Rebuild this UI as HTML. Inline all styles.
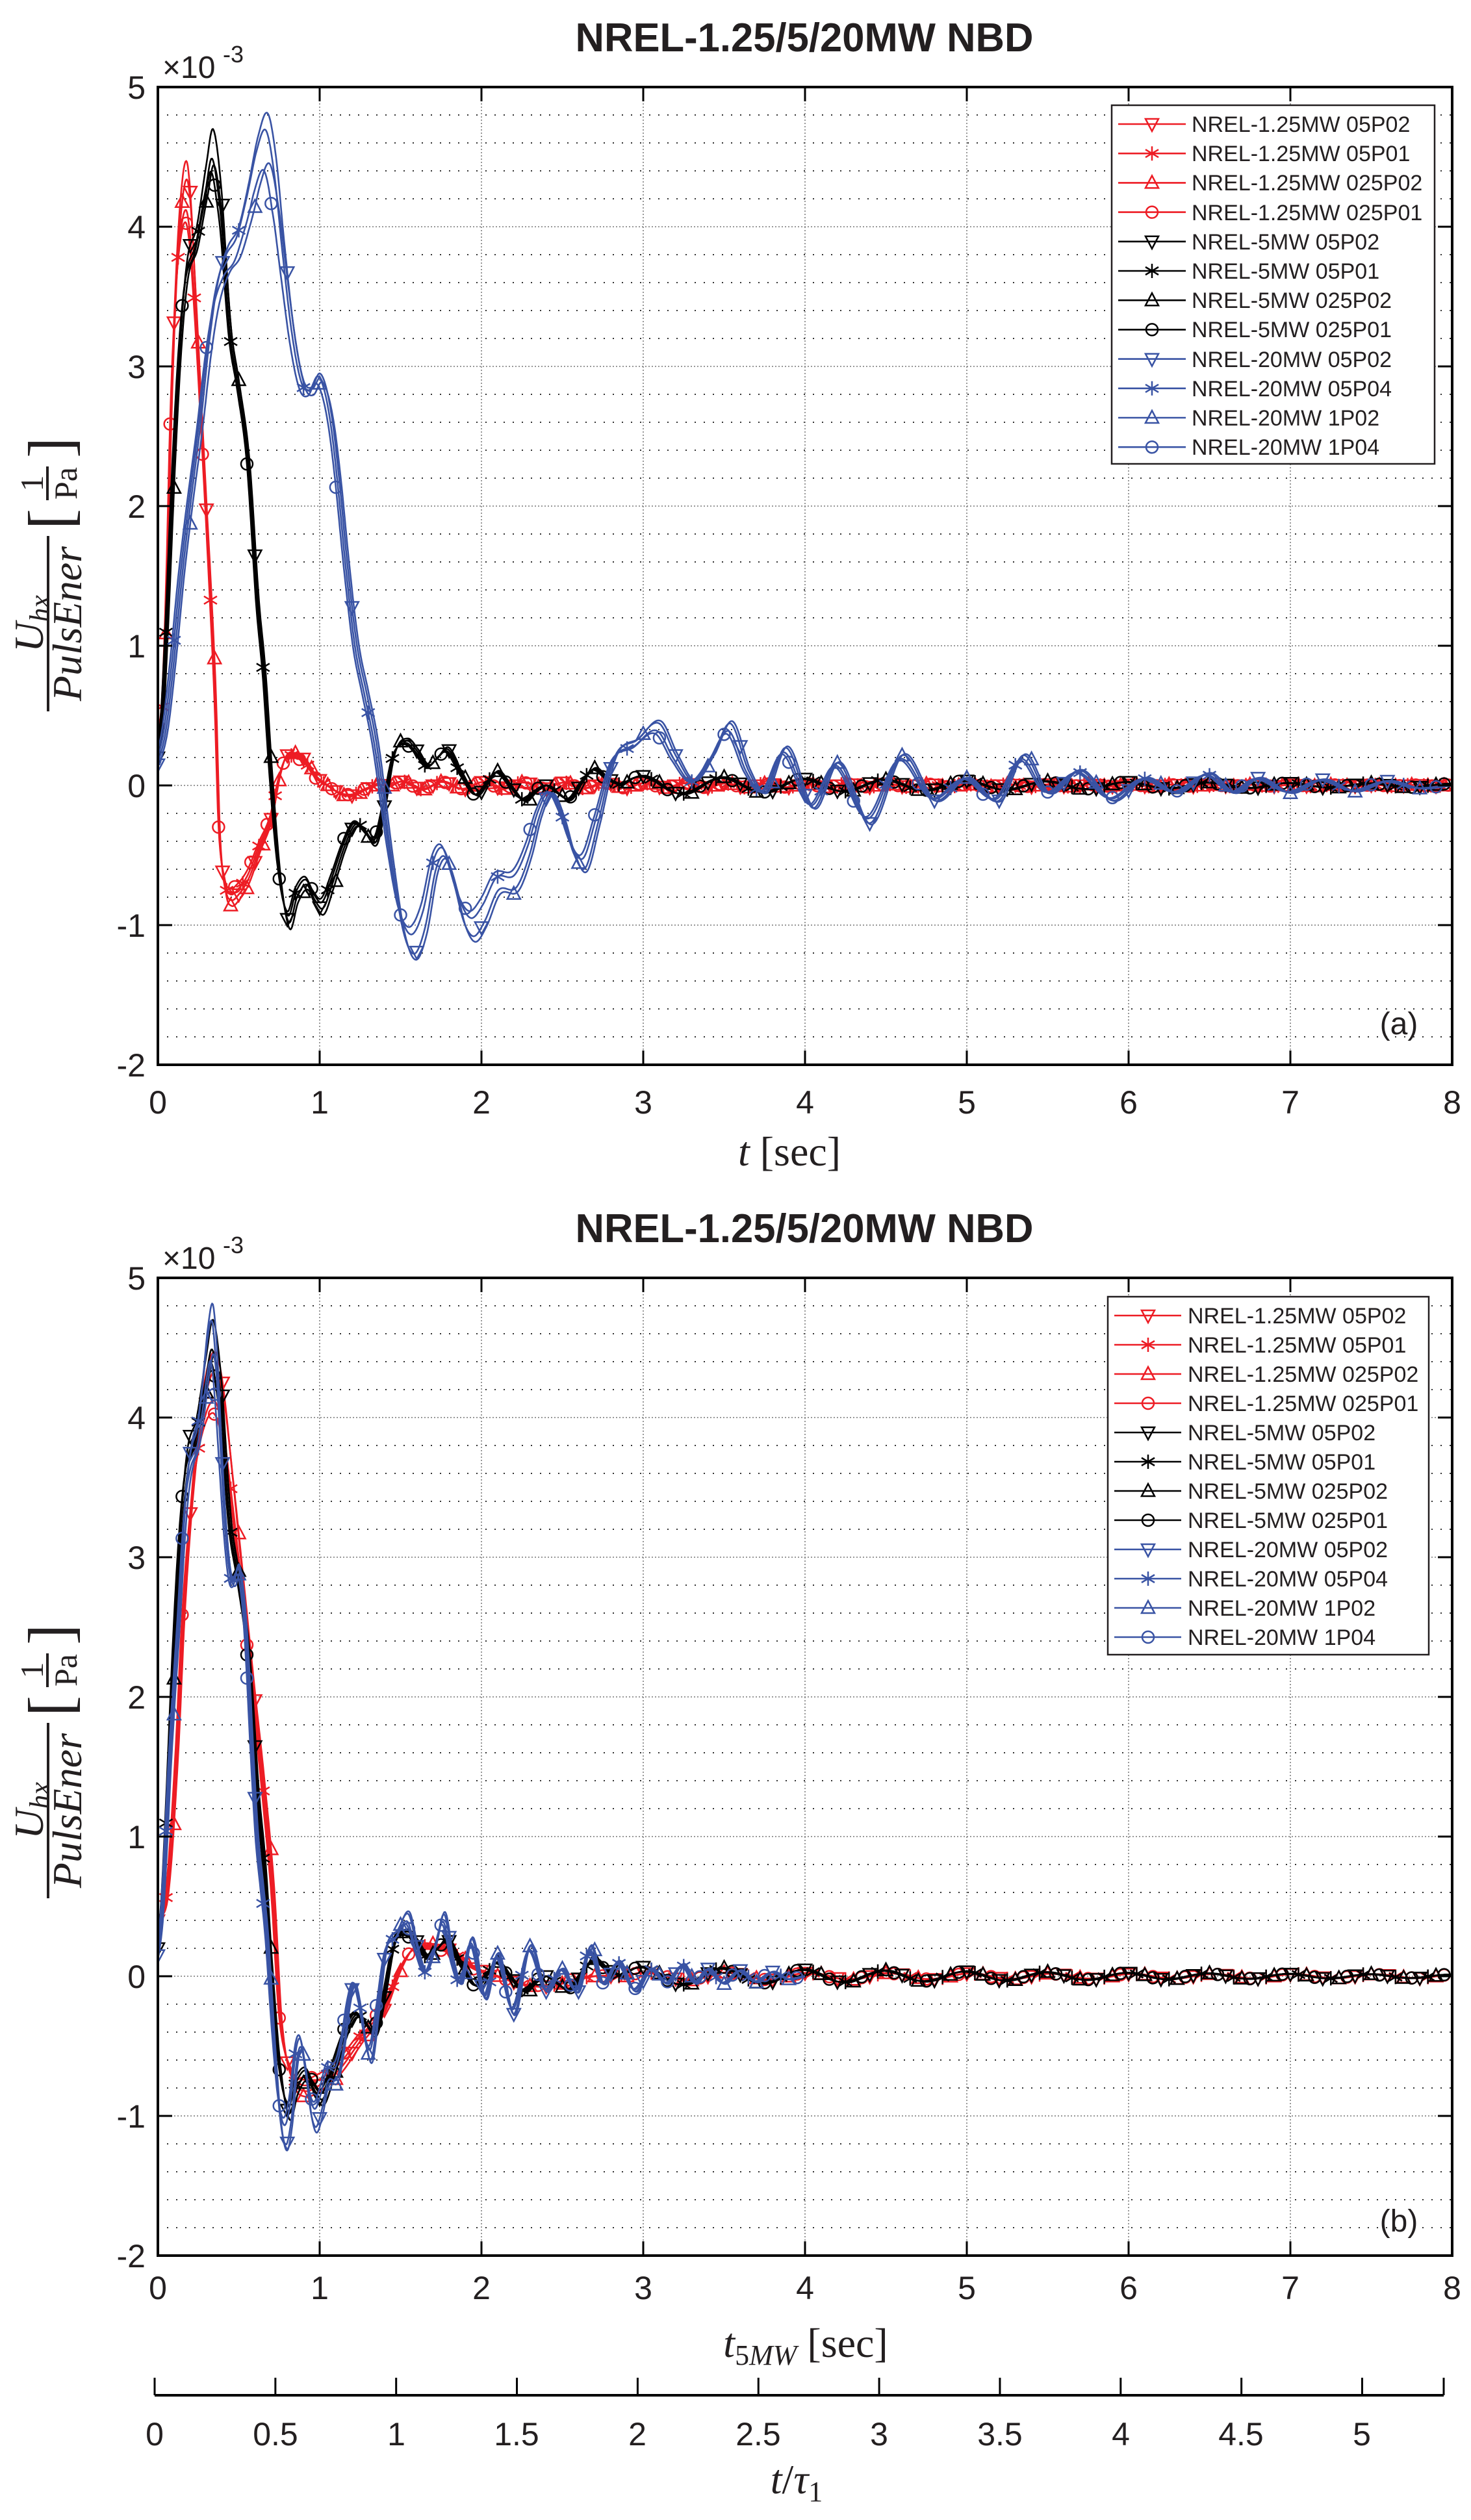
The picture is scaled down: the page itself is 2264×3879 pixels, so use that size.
<!DOCTYPE html>
<html><head><meta charset="utf-8"><style>
html,body{margin:0;padding:0;background:#fff}
svg{display:block}
text{font-family:"Liberation Sans",sans-serif;fill:#231f20}
.tk{font-size:50px}
.lg{font-size:34px}
.m{font-family:"Liberation Serif",serif}
</style></head><body>
<svg id="s" xmlns="http://www.w3.org/2000/svg" width="2264" height="3879" viewBox="0 0 2264 3879">
<defs>
<clipPath id="ca"><rect x="243" y="134" width="1992" height="1505"/></clipPath>
<clipPath id="cb"><rect x="243" y="1967" width="1992" height="1500"/></clipPath>
</defs>
<rect width="2264" height="3879" fill="#fff"/>
<g id="grid"></g>
<g id="curves"></g>
<g id="axes"></g>

<text x="1238" y="79" font-size="62" font-weight="bold" text-anchor="middle" textLength="705" lengthAdjust="spacingAndGlyphs">NREL-1.25/5/20MW NBD</text>
<text x="1238" y="1912" font-size="62" font-weight="bold" text-anchor="middle" textLength="705" lengthAdjust="spacingAndGlyphs">NREL-1.25/5/20MW NBD</text>

<text x="250" y="120" font-size="48">×10</text><text x="343" y="96" font-size="36">-3</text>
<text x="250" y="1953" font-size="48">×10</text><text x="343" y="1929" font-size="36">-3</text>

<g class="tk" text-anchor="end">
<text x="224" y="152">5</text><text x="224" y="367">4</text><text x="224" y="582">3</text><text x="224" y="797">2</text><text x="224" y="1012">1</text><text x="224" y="1227">0</text><text x="224" y="1442">-1</text><text x="224" y="1657">-2</text>
<text x="224" y="1985">5</text><text x="224" y="2200">4</text><text x="224" y="2415">3</text><text x="224" y="2630">2</text><text x="224" y="2845">1</text><text x="224" y="3060">0</text><text x="224" y="3275">-1</text><text x="224" y="3490">-2</text>
</g>
<g class="tk" text-anchor="middle">
<text x="243" y="1714">0</text><text x="492" y="1714">1</text><text x="741" y="1714">2</text><text x="990" y="1714">3</text><text x="1239" y="1714">4</text><text x="1488" y="1714">5</text><text x="1737" y="1714">6</text><text x="1986" y="1714">7</text><text x="2235" y="1714">8</text>
<text x="243" y="3539">0</text><text x="492" y="3539">1</text><text x="741" y="3539">2</text><text x="990" y="3539">3</text><text x="1239" y="3539">4</text><text x="1488" y="3539">5</text><text x="1737" y="3539">6</text><text x="1986" y="3539">7</text><text x="2235" y="3539">8</text>
<text x="238" y="3764">0</text><text x="424" y="3764">0.5</text><text x="610" y="3764">1</text><text x="795" y="3764">1.5</text><text x="981" y="3764">2</text><text x="1167" y="3764">2.5</text><text x="1353" y="3764">3</text><text x="1539" y="3764">3.5</text><text x="1725" y="3764">4</text><text x="1910" y="3764">4.5</text><text x="2096" y="3764">5</text>
</g>

<text class="m" x="1215" y="1794" font-size="64" text-anchor="middle"><tspan font-style="italic">t</tspan> [sec]</text>
<text class="m" x="1240" y="3628" font-size="64" text-anchor="middle"><tspan font-style="italic">t</tspan><tspan font-size="44" dy="12">5</tspan><tspan font-size="44" font-style="italic">MW</tspan><tspan dy="-12"> [sec]</tspan></text>
<text class="m" x="1226" y="3838" font-size="64" text-anchor="middle"><tspan font-style="italic">t</tspan>/<tspan font-style="italic">τ</tspan><tspan font-size="44" dy="12">1</tspan></text>

<g transform="translate(0,890) rotate(-90)">
<text class="m" x="-70" y="66" font-size="64" text-anchor="middle" font-style="italic">U<tspan font-size="44" dy="10">hx</tspan></text>
<rect x="-205" y="72" width="270" height="4" fill="#231f20"/>
<text class="m" x="-70" y="125" font-size="64" text-anchor="middle" font-style="italic">PulsEner</text>
<text class="m" x="91" y="110" font-size="96" text-anchor="middle">[</text>
<text class="m" x="146" y="66" font-size="50" text-anchor="middle">1</text>
<rect x="120" y="71" width="52" height="4" fill="#231f20"/>
<text class="m" x="146" y="118" font-size="50" text-anchor="middle">Pa</text>
<text class="m" x="201" y="110" font-size="96" text-anchor="middle">]</text>
</g>
<g transform="translate(0,2717) rotate(-90)">
<text class="m" x="-70" y="66" font-size="64" text-anchor="middle" font-style="italic">U<tspan font-size="44" dy="10">hx</tspan></text>
<rect x="-205" y="72" width="270" height="4" fill="#231f20"/>
<text class="m" x="-70" y="125" font-size="64" text-anchor="middle" font-style="italic">PulsEner</text>
<text class="m" x="91" y="110" font-size="96" text-anchor="middle">[</text>
<text class="m" x="146" y="66" font-size="50" text-anchor="middle">1</text>
<rect x="120" y="71" width="52" height="4" fill="#231f20"/>
<text class="m" x="146" y="118" font-size="50" text-anchor="middle">Pa</text>
<text class="m" x="201" y="110" font-size="96" text-anchor="middle">]</text>
</g>

<text x="2153" y="1592" font-size="48" text-anchor="middle">(a)</text>
<text x="2153" y="3435" font-size="48" text-anchor="middle">(b)</text>

<rect x="1711" y="162" width="497" height="552" fill="#fff" stroke="#231f20" stroke-width="2.5"/>
<rect x="1705" y="1996" width="494" height="551" fill="#fff" stroke="#231f20" stroke-width="2.5"/>
<g id="leglines"></g>
<g class="lg">
<text x="1834" y="203">NREL-1.25MW 05P02</text>
<text x="1834" y="248">NREL-1.25MW 05P01</text>
<text x="1834" y="293">NREL-1.25MW 025P02</text>
<text x="1834" y="339">NREL-1.25MW 025P01</text>
<text x="1834" y="384">NREL-5MW 05P02</text>
<text x="1834" y="429">NREL-5MW 05P01</text>
<text x="1834" y="474">NREL-5MW 025P02</text>
<text x="1834" y="519">NREL-5MW 025P01</text>
<text x="1834" y="565">NREL-20MW 05P02</text>
<text x="1834" y="610">NREL-20MW 05P04</text>
<text x="1834" y="655">NREL-20MW 1P02</text>
<text x="1834" y="700">NREL-20MW 1P04</text>
<text x="1828" y="2037">NREL-1.25MW 05P02</text>
<text x="1828" y="2082">NREL-1.25MW 05P01</text>
<text x="1828" y="2127">NREL-1.25MW 025P02</text>
<text x="1828" y="2172">NREL-1.25MW 025P01</text>
<text x="1828" y="2217">NREL-5MW 05P02</text>
<text x="1828" y="2262">NREL-5MW 05P01</text>
<text x="1828" y="2307">NREL-5MW 025P02</text>
<text x="1828" y="2352">NREL-5MW 025P01</text>
<text x="1828" y="2397">NREL-20MW 05P02</text>
<text x="1828" y="2442">NREL-20MW 05P04</text>
<text x="1828" y="2487">NREL-20MW 1P02</text>
<text x="1828" y="2532">NREL-20MW 1P04</text>
</g>
</svg>
<script>
(function(){
var NS="http://www.w3.org/2000/svg";
function el(p,n,a){var e=document.createElementNS(NS,n);for(var k in a)e.setAttribute(k,a[k]);p.appendChild(e);return e;}
var X0=243,XS=249,YS=215,TOPS=[134,1967];
function px(t){return X0+t*XS}
function py(top,v){return top+(5-v)*YS}
var grid=document.getElementById('grid'),axes=document.getElementById('axes'),cur=document.getElementById('curves');
TOPS.forEach(function(top){
  var bot=top+7*YS;
  for(var k=-9;k<=24;k++){var v=k/5;if(k%5===0)continue;
    el(grid,'line',{x1:X0,x2:X0+8*XS,y1:py(top,v),y2:py(top,v),stroke:'#333','stroke-width':2,'stroke-dasharray':'2,12'});}
  for(var v=-1;v<=4;v++) el(grid,'line',{x1:X0,x2:X0+8*XS,y1:py(top,v),y2:py(top,v),stroke:'#777','stroke-width':1.5,'stroke-dasharray':'2,3'});
  for(var i=1;i<8;i++) el(grid,'line',{x1:px(i),x2:px(i),y1:top,y2:bot,stroke:'#777','stroke-width':1.5,'stroke-dasharray':'2,3'});
  el(axes,'rect',{x:X0,y:top,width:8*XS,height:7*YS,fill:'none',stroke:'#000','stroke-width':4});
  for(var i=1;i<8;i++){el(axes,'line',{x1:px(i),x2:px(i),y1:top,y2:top+22,stroke:'#000','stroke-width':3});el(axes,'line',{x1:px(i),x2:px(i),y1:bot,y2:bot-22,stroke:'#000','stroke-width':3});}
  for(var v=-1;v<=4;v++){el(axes,'line',{x1:X0,x2:X0+22,y1:py(top,v),y2:py(top,v),stroke:'#000','stroke-width':3});el(axes,'line',{x1:X0+8*XS,x2:X0+8*XS-22,y1:py(top,v),y2:py(top,v),stroke:'#000','stroke-width':3});}
});
el(axes,'line',{x1:238,x2:2222,y1:3687,y2:3687,stroke:'#000','stroke-width':4});
for(var i=0;i<=10;i++){var x=238+i*185.85;el(axes,'line',{x1:x,x2:x,y1:3687,y2:3660,stroke:'#000','stroke-width':3});}
el(axes,'line',{x1:2222,x2:2222,y1:3687,y2:3660,stroke:'#000','stroke-width':3});

function mk(pts){return function(t){
  var n=pts.length;if(t<=pts[0][0])return pts[0][1];if(t>=pts[n-1][0])return pts[n-1][1];
  var k=0;while(pts[k+1][0]<t)k++;
  function m(j){if(j<=0)return (pts[1][1]-pts[0][1])/(pts[1][0]-pts[0][0]);if(j>=n-1)return (pts[n-1][1]-pts[n-2][1])/(pts[n-1][0]-pts[n-2][0]);
    return 0.5*((pts[j+1][1]-pts[j][1])/(pts[j+1][0]-pts[j][0])+(pts[j][1]-pts[j-1][1])/(pts[j][0]-pts[j-1][0]));}
  var t0=pts[k][0],t1=pts[k+1][0],h=t1-t0,s=(t-t0)/h,s2=s*s,s3=s2*s;
  return (2*s3-3*s2+1)*pts[k][1]+(s3-2*s2+s)*h*m(k)+(-2*s3+3*s2)*pts[k+1][1]+(s3-s2)*h*m(k+1);
};}
var red=mk([[0,0.4],[0.03,0.6],[0.06,1.6],[0.08,2.6],[0.11,3.6],[0.14,4.2],[0.177,4.47],[0.2,4.25],[0.23,3.6],[0.26,2.9],[0.29,2.2],[0.33,1.3],[0.357,0.6],[0.38,-0.3],[0.42,-0.75],[0.45,-0.82],[0.5,-0.78],[0.56,-0.67],[0.63,-0.45],[0.7,-0.24],[0.75,0.05],[0.79,0.2],[0.85,0.22],[0.91,0.18],[0.98,0.06],[1.05,0],[1.13,-0.06],[1.21,-0.07],[1.28,-0.03],[1.35,0.0],[1.45,0.0]]);
var blk=mk([[0,0.2],[0.03,0.5],[0.06,1.2],[0.1,2.3],[0.14,3.2],[0.18,3.75],[0.24,4.0],[0.3,4.45],[0.34,4.7],[0.39,4.3],[0.45,3.3],[0.5,2.9],[0.56,2.35],[0.62,1.3],[0.66,0.8],[0.7,0.1],[0.75,-0.6],[0.81,-0.98],[0.86,-0.8],[0.92,-0.71],[0.97,-0.82],[1.02,-0.88],[1.08,-0.7],[1.15,-0.45],[1.22,-0.28],[1.28,-0.33],[1.35,-0.4],[1.4,-0.15],[1.46,0.22],[1.54,0.32],[1.6,0.25],[1.67,0.14],[1.73,0.2],[1.79,0.26],[1.88,0.08],[1.97,-0.07],[2.04,0.02],[2.1,0.1],[2.18,0.0],[2.27,-0.11],[2.34,-0.04],[2.41,0],[2.48,-0.06],[2.55,-0.1],[2.62,0.02],[2.7,0.12],[2.78,0.05],[2.87,0]]);
var blu=mk([[0,0.15],[0.05,0.4],[0.1,0.9],[0.15,1.5],[0.2,2.0],[0.265,2.6],[0.32,3.2],[0.37,3.6],[0.43,3.85],[0.5,4.0],[0.56,4.3],[0.62,4.65],[0.68,4.81],[0.73,4.5],[0.78,3.9],[0.84,3.27],[0.9,2.9],[0.95,2.85],[1.0,2.95],[1.04,2.85],[1.08,2.6],[1.12,2.2],[1.17,1.6],[1.23,1.0],[1.29,0.65],[1.35,0.3],[1.44,-0.47],[1.51,-0.95],[1.58,-1.12],[1.65,-0.95],[1.72,-0.55],[1.77,-0.47],[1.83,-0.65],[1.89,-0.9],[1.95,-1.0],[2.02,-0.9],[2.1,-0.7],[2.22,-0.67],[2.3,-0.45],[2.36,-0.2],[2.43,-0.05],[2.5,-0.2],[2.57,-0.45],[2.64,-0.55],[2.72,-0.25],[2.82,0.18],[2.96,0.3],[3.1,0.41],[3.2,0.2],[3.31,0.03],[3.43,0.2],[3.54,0.41],[3.65,0.1],[3.75,-0.05],[3.88,0.25],[4.05,-0.15],[4.2,0.15],[4.4,-0.25],[4.6,0.2],[4.8,-0.1],[5.0,0.05],[5.2,-0.1],[5.35,0.2],[5.5,-0.05],[5.7,0.1],[5.9,-0.1],[6.1,0.05],[6.3,-0.05],[6.5,0.08],[6.65,-0.05],[6.8,0.05],[7.0,-0.05],[7.2,0.04],[7.4,-0.04],[7.6,0.03],[7.8,-0.02],[8,0]]);
function redF(t){var v=red(t);if(t>1.45)v+=0.03*Math.sin(2*Math.PI*(t-1.45)/0.25)*Math.exp(-(t-1.45)/3);return v;}
function blkF(t){var v=blk(t);if(t>2.87)v+=0.07*Math.sin(2*Math.PI*(t-2.87)/0.5)*Math.exp(-(t-2.87)/3);return v;}
var C={r:'#ed1c24',k:'#000000',b:'#3953a4'};
var series=[
 {f:redF,ts:0.5,c:C.r,pf:[1,0.92,0.97,0.9],af:[1,0.95,1.05,0.9]},
 {f:blkF,ts:1,c:C.k,pf:[1,0.955,0.945,0.935],af:[1,0.95,1.05,0.92]},
 {f:blu,ts:2,c:C.b,pf:[1,0.975,0.925,0.915],af:[1.08,0.95,1.12,0.9]}
];
var shifts=[0,0.006,-0.006,0.012];
var mtypes=['dn','ast','up','o'];
function marker(g,type,x,y,c){
  var a={fill:'none',stroke:c,'stroke-width':2.5};
  if(type==='dn'){a.points=(x-10)+','+(y-8)+' '+(x+10)+','+(y-8)+' '+x+','+(y+11);el(g,'polygon',a);}
  else if(type==='up'){a.points=(x-10)+','+(y+8)+' '+(x+10)+','+(y+8)+' '+x+','+(y-11);el(g,'polygon',a);}
  else if(type==='o'){a.cx=x;a.cy=y;a.r=9;el(g,'circle',a);}
  else{a.d='M'+x+' '+(y-11)+'V'+(y+11)+'M'+(x-10)+' '+(y-6)+'L'+(x+10)+' '+(y+6)+'M'+(x-10)+' '+(y+6)+'L'+(x+10)+' '+(y-6);el(g,'path',a);}
}
function val(S,i,t){var tt=t+shifts[i]*S.ts;var v=S.f(tt);
  var tau=tt/S.ts;var aw=Math.max(0,Math.min(1,(tau-0.6)/0.2));
  var ampf=1+(S.af[i]-1)*aw;
  if(v>0){var w=Math.min(1,v/4.5);w=w*w*w;return v*(1+(S.pf[i]-1)*w)*ampf;}
  return v*ampf;}
[0,1].forEach(function(p){
  var top=TOPS[p];var g=el(cur,'g',{'clip-path':p?'url(#cb)':'url(#ca)'});
  series.forEach(function(S){
    var scale=p?S.ts:1;
    for(var i=0;i<4;i++){
      var d='',N=1600;
      for(var j=0;j<=N;j++){var x=8*j/N;var t=x*scale;if(t>8)break;
        var v=val(S,i,t);d+=(j?'L':'M')+px(x).toFixed(1)+' '+py(top,v).toFixed(1);}
      el(g,'path',{d:d,fill:'none',stroke:S.c,'stroke-width':2.6,'stroke-linejoin':'round'});
      var dt=0.2*S.ts;
      for(var t=i*0.05*S.ts;t<=8;t+=dt){var x=p?t/S.ts:t;if(x>8)break;
        marker(g,mtypes[i],px(x),py(top,val(S,i,t)),S.c);}
    }
  });
});
var lg=document.getElementById('leglines');
[[1721,1825,1773,191,45.2],[1715,1818,1767,2025,45]].forEach(function(L){
  for(var r=0;r<12;r++){var y=L[3]+r*L[4];var c=[C.r,C.k,C.b][Math.floor(r/4)];
    el(lg,'line',{x1:L[0],x2:L[1],y1:y,y2:y,stroke:c,'stroke-width':2.6});
    marker(lg,mtypes[r%4],L[2],y,c);}
});
})();
</script>
</body></html>
